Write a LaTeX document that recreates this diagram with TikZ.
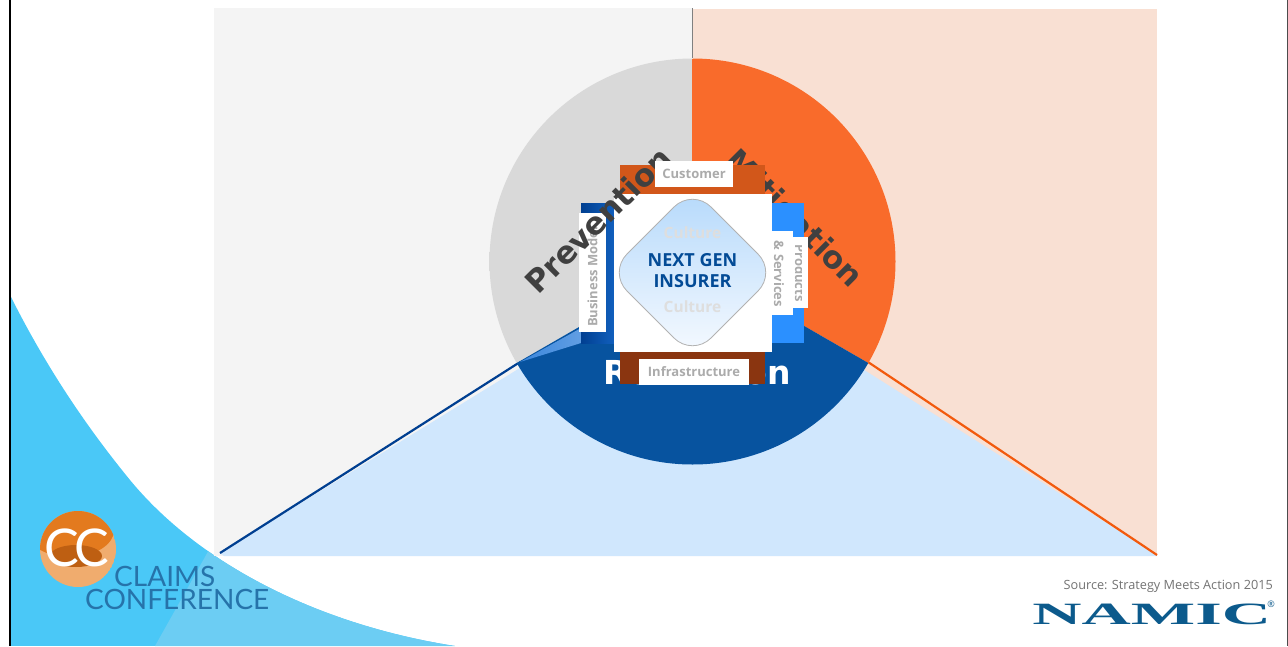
\documentclass[tikz,border=0pt]{standalone}
\usepackage{fontspec}
\setmainfont{Open Sans}
\newfontfamily\logofont{Lato}
\newfontfamily\namicfont{Liberation Serif}
\newfontfamily\wheelfont{DejaVu Sans}
\usepackage{xcolor}
\definecolor{pagecyan}{RGB}{74,200,247}
\definecolor{pagecyanlight}{RGB}{108,205,243}
\definecolor{prevgrey}{RGB}{244,244,244}
\definecolor{mitipeach}{RGB}{249,224,211}
\definecolor{reduceblue}{RGB}{208,231,253}
\definecolor{wheelgrey}{RGB}{217,217,217}
\definecolor{wheelorange}{RGB}{249,107,43}
\definecolor{wheelblue}{RGB}{7,83,159}
\definecolor{lineblue}{RGB}{0,63,145}
\definecolor{lineorange}{RGB}{242,90,14}
\definecolor{barcustomer}{RGB}{210,87,26}
\definecolor{barinfra}{RGB}{138,53,16}
\definecolor{barbright}{RGB}{43,144,255}
\definecolor{titleblue}{RGB}{3,75,150}
\definecolor{namicblue}{RGB}{12,90,140}
\definecolor{claimsblue}{RGB}{38,115,170}
\definecolor{coretop}{RGB}{181,217,251}
\definecolor{corelow}{RGB}{246,250,255}
\definecolor{logopale}{RGB}{240,172,110}
\definecolor{logomid}{RGB}{227,122,30}
\definecolor{logodark}{RGB}{190,95,18}
\definecolor{wedgeblue}{RGB}{58,134,220}
\pgfdeclareradialshading{rimgrey}{\pgfpoint{0bp}{0bp}}{color(0bp)=(wheelgrey); color(46.5bp)=(wheelgrey); color(48bp)=(prevgrey); color(49.4bp)=(white!92!black); color(50bp)=(black!35)}
\pgfdeclareradialshading{rimorange}{\pgfpoint{0bp}{0bp}}{color(0bp)=(wheelorange); color(47.5bp)=(wheelorange); color(49.3bp)=(wheelorange!85!black); color(50bp)=(wheelorange!60!black)}
\pgfdeclareradialshading{rimblue}{\pgfpoint{0bp}{0bp}}{color(0bp)=(wheelblue); color(47.5bp)=(wheelblue); color(49.3bp)=(wheelblue!85!black); color(50bp)=(wheelblue!65!black)}
\usetikzlibrary{arrows.meta,positioning}
\tikzset{
  wheel title/.style={font=\wheelfont\bfseries\fontsize{31}{31}\selectfont, inner sep=0pt},
  ray line/.style={line width=2.2pt},
  bar label/.style={font=\bfseries\fontsize{13}{13}\selectfont, text=black!33, inner sep=0pt},
  culture label/.style={font=\bfseries\fontsize{15.5}{15.5}\selectfont, text=black!13, inner sep=0pt},
  core label/.style={font=\bfseries\fontsize{18}{18}\selectfont, text=titleblue, inner sep=0pt},
}
\begin{document}
\begin{tikzpicture}[x=1pt, y=-1pt]
  \useasboundingbox (0,0) rectangle (1288,646);
  \fill[white] (0,0) rectangle (1288,646);
  \coordinate (hub) at (692.5,261.5);
  \coordinate (rayleft) at (520,362);
  \coordinate (rayright) at (868,362);
  \coordinate (raytop) at (692.5,58);
  \coordinate (endleft) at (220,553);
  \coordinate (endright) at (1157,555);
  \coordinate (endtop) at (692.5,8);
  \begin{scope}
    \clip (10,295) .. controls (45,365) and (85,425) .. (130,480) .. controls (200,565) and (320,625) .. (455,646) -- (10,646) -- cycle;
    \fill[pagecyan] (0,280) rectangle (500,646);
    \fill[pagecyanlight] (210,548) -- (155,646) -- (500,646) -- (500,540) -- cycle;
  \end{scope}
  \draw[black, line width=2pt] (9.5,0) -- (9.5,646);
  \draw[black!70, line width=1pt] (1287.5,0) -- (1287.5,646);
  \fill[prevgrey] (214,8) rectangle (692.5,556);
  \fill[mitipeach] (692.5,9) rectangle (1157,556);
  \fill[reduceblue] (hub) -- (endleft) -- (224,556) -- (1157,556) -- (endright) -- cycle;
  \draw[black!50, line width=1.6pt] (endtop) -- (raytop);
  \draw[ray line, lineblue] (endleft) -- (rayleft);
  \draw[ray line, lineorange] (endright) -- (rayright);
  \foreach \from/\to/\rim in {-90/-210/rimgrey, -90/30/rimorange, 30/150/rimblue} {
    \begin{scope}
      \clip (hub) -- ++(\from:203) arc[start angle=\from, end angle=\to, radius=203] -- cycle;
      \shade[shading=\rim] (hub) circle[radius=203];
    \end{scope}
  }
  \shade[left color=wedgeblue, right color=wedgeblue!80!white] (rayleft) -- (581,328) -- (581,343) -- cycle;
  \node[wheel title, text=black!75, rotate=-45] (mitigation) at (793,220) {Mitigation};
  \node[wheel title, text=white, font=\wheelfont\bfseries\fontsize{33}{33}\selectfont] (reduction) at (697,372) {Reduction};
  \fill[barcustomer] (620,165) rectangle (765,194);
  \fill[barinfra] (620,350) rectangle (765,384);
  \shade[left color=lineblue, right color=lineblue!60!barbright] (581,203) rectangle (614,343);
  \fill[barbright] (772,203) rectangle (804,343);
  \fill[white] (579,213) rectangle (606,332);
  \node[bar label, rotate=90, anchor=west] (business) at (592.5,327) {Business Model};
  \fill[white] (614,194) rectangle (772,352);
  \node[wheel title, text=black!75, rotate=45] (prevention) at (598,220) {Prevention};
  \fill[white] (655,161) rectangle (733,187);
  \node[bar label] (customer) at (694,174) {Customer};
  \fill[white] (639,359) rectangle (749,385);
  \node[bar label] (infrastructure) at (694,372) {Infrastructure};
  \fill[white] (772,231) rectangle (793,315);
  \node[bar label, rotate=-90] (services) at (779,274) {\&~Services};
  \fill[white] (793,237) rectangle (808,308);
  \begin{scope}
    \clip (793,237) rectangle (801,308);
    \node[bar label, rotate=-90] (products) at (800,273) {Products};
  \end{scope}
  \shade[top color=coretop, bottom color=corelow, draw=black!30, line width=0.8pt, rounded corners=26pt] (692.5,188.5) -- (776.5,272.5) -- (692.5,356.5) -- (608.5,272.5) -- cycle;
  \node[culture label] (culturetop) at (692.5,233) {Culture};
  \node[culture label] (culturelow) at (692.5,307) {Culture};
  \node[core label] (nextgen) at (692.5,260) {NEXT GEN};
  \node[core label] (insurer) at (692.5,281) {INSURER};
  \begin{scope}
    \clip (78,549) circle[radius=38];
    \fill[logopale] (78,549) circle[radius=38];
    \fill[logomid] (70,530) ellipse[x radius=44, y radius=27];
    \fill[logodark] (76,556) ellipse[x radius=26, y radius=11];
  \end{scope}
  \node[inner sep=0pt, text=white, font=\logofont\fontsize{52}{52}\selectfont] (cclogo) at (77,548) {C\kern-5ptC};
  \node[inner sep=0pt, anchor=base west, text=claimsblue, font=\logofont\fontsize{28}{28}\selectfont] (claims) at (114,586) {CLAIMS};
  \node[inner sep=0pt, anchor=base west, text=claimsblue, font=\logofont\fontsize{28}{28}\selectfont] (conference) at (85,609) {CONFERENCE};
  \node[inner sep=0pt, anchor=base east, text=black!55, font=\fontsize{12.7}{12.7}\selectfont] (source) at (1273,589) {Source: Strategy Meets Action 2015};
  \node[inner sep=0pt, anchor=base west, text=namicblue, font=\namicfont\bfseries\fontsize{31}{31}\selectfont, xscale=2.2] (namic) at (1032,624) {NAMIC};
  \node[inner sep=0pt, text=namicblue, font=\fontsize{9}{9}\selectfont] (regmark) at (1271,604) {®};
\end{tikzpicture}
\end{document}
